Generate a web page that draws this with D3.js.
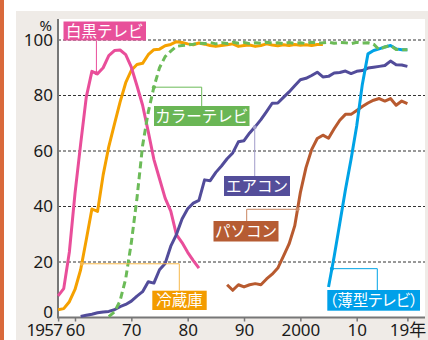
<!DOCTYPE html>
<html>
<head>
<meta charset="utf-8">
<script src="https://cdn.jsdelivr.net/npm/d3@7"></script>
<style>
  body { margin: 0; background: #fff; }
  svg { display: block; }
  text { font-family: "Noto Sans", "Noto Sans CJK JP", sans-serif; }
  .lbl { font-family: "Noto Sans CJK JP", sans-serif; font-size: 15.5px; fill: #fff; }
</style>
</head>
<body>
<div class="chart"></div>
<script>
// 主な耐久消費財の普及率 (%)
var xTicks = [1957, 1960, 1970, 1980, 1990, 2000, 2010, 2019];
var xTickLabels = ["1957", "60", "70", "80", "90", "2000", "10", "19年"];
var yTicks = [0, 20, 40, 60, 80, 100];

// 白黒テレビ 1957-1982
var bwTvStart = 1957;
var bwTv = [7.8, 10.4, 23.6, 44.7, 62.5, 79.4, 88.7, 87.8, 90.0, 94.4, 96.2, 96.4, 94.7,
  90.2, 83.5, 76.5, 67, 57, 50, 43, 38.3, 29.9, 27, 23.5, 20.5, 17.8];

// 冷蔵庫 1957-2004
var fridgeStart = 1957;
var fridge = [2.8, 3.2, 5.7, 10.1, 17.2, 28.0, 39.1, 38.2, 51.4, 61.6, 69.7, 77.6, 84.6,
  89.1, 91.2, 91.6, 94.7, 96.5, 96.7, 97.9, 98.4, 99.4, 99.1, 98.6, 98.3, 98.9, 98.5,
  98.0, 97.7, 98.0, 98.3, 98.6, 97.7, 98.0, 98.2, 97.7, 98.0, 98.6, 98.2, 97.9, 98.3,
  98.0, 98.4, 98.1, 98.3, 98.0, 98.4, 98.4];

// カラーテレビ 1966-2019
var colorTvStart = 1966;
var colorTv = [0.3, 2.0, 6.0, 14.0, 27.0, 43.0, 62.0, 74.0, 83.0, 90.0, 94.0, 96.0, 97.7,
  98.0, 98.2, 98.5, 98.9, 98.7, 99.1, 98.6, 99.0, 98.7, 99.2, 98.8, 99.1, 98.7, 99.0,
  98.8, 99.2, 98.9, 99.0, 98.7, 99.1, 98.8, 99.0, 98.7, 99.2, 98.9, 99.0, 99.2, 98.8,
  99.1, 99.0, 98.7, 99.2, 98.9, 99.0, 98.5, 96.5, 97.5, 98.0, 96.6, 96.5, 96.5];

// エアコン 1961-2019
var acStart = 1961;
var ac = [0.4, 0.8, 1.2, 1.7, 2.0, 2.2, 2.8, 3.9, 4.7, 5.9, 7.7, 9.3, 12.9, 12.4, 17.2,
  19.5, 25.7, 29.9, 35.5, 39.2, 41.2, 42.2, 49.6, 49.3, 52.3, 54.6, 57.2, 59.3, 63.3,
  63.7, 66.5, 68.8, 71.3, 74.2, 77.2, 77.3, 79.3, 81.3, 83.5, 85.7, 86.2, 87.2, 88.4,
  86.7, 86.9, 88.1, 88.3, 88.8, 87.9, 88.7, 89.0, 89.9, 90.2, 90.5, 90.8, 92.4, 91.1,
  91.0, 90.5];

// パソコン 1987-2019
var pcStart = 1987;
var pc = [11.8, 9.8, 11.8, 11.0, 11.8, 12.2, 11.8, 13.9, 15.6, 17.8, 22.1, 26.5, 33.0,
  45.0, 54.0, 60.5, 64.5, 65.7, 64.6, 68.0, 71.1, 73.2, 73.2, 74.6, 76.0, 77.3, 78.3,
  78.9, 78.0, 78.9, 76.5, 78.0, 77.1];

// 薄型テレビ 2005-2019
var flatTvStart = 2005;
var flatTv = [11, 22, 34, 46, 57, 69, 84, 95, 96.2, 96.8, 97.5, 98.0, 96.8, 96.5, 96.5];

var seriesNames = ["冷蔵庫", "白黒テレビ", "エアコン", "パソコン", "（薄型テレビ）", "カラーテレビ"];

var svgWidth = 428;
var svgHeight = 340;

var svg = d3.select(".chart")
  .append("svg")
  .attr("width", svgWidth)
  .attr("height", svgHeight);

// frame
svg.append("rect").attr("x", 0).attr("y", 0).attr("width", 4).attr("height", svgHeight)
  .attr("fill", "#d9693b");
svg.append("rect").attr("x", 16).attr("y", 11).attr("width", svgWidth - 16).attr("height", svgHeight - 11)
  .attr("fill", "#efebe7");

var plotLeft = 58, plotRight = 425, plotTop = 19;

var x = d3.scaleLinear().domain([1957, 2019]).range([58.1, 407.4]);
var y = d3.scaleLinear().domain([0, 100]).range([317.5, 40]);

svg.append("rect")
  .attr("x", plotLeft).attr("y", plotTop)
  .attr("width", plotRight - plotLeft).attr("height", y(0) - plotTop)
  .attr("fill", "#fff");

// gridlines
svg.append("g").selectAll("line")
  .data(yTicks.slice(1))
  .enter()
  .append("line")
  .attr("x1", plotLeft).attr("x2", plotRight)
  .attr("y1", d => y(d)).attr("y2", d => y(d))
  .attr("stroke", "#333")
  .attr("stroke-width", 1)
  .attr("stroke-dasharray", "3,2");

// axes
var bottomAxis = d3.axisBottom(x)
  .tickValues(xTicks)
  .tickSize(4)
  .tickPadding(2)
  .tickFormat((d, i) => xTickLabels[i]);

var xAxis = svg.append("g")
  .attr("transform", `translate(0, ${y(0)})`)
  .call(bottomAxis);
xAxis.select(".domain").remove();
xAxis.selectAll("line").attr("stroke", "#777").attr("stroke-width", 1.5);
xAxis.selectAll("text")
  .attr("font-size", 17)
  .attr("fill", "#1a1a1a");
// the first year label sits left of its tick
xAxis.selectAll("text").filter((d, i) => i === 0)
  .attr("text-anchor", "end")
  .attr("letter-spacing", -0.8)
  .attr("x", 3.5);

var leftAxis = d3.axisLeft(y)
  .tickValues(yTicks)
  .tickSize(0)
  .tickPadding(5);

var yAxis = svg.append("g")
  .attr("transform", `translate(${plotLeft}, 0)`)
  .call(leftAxis);
yAxis.select(".domain").remove();
yAxis.selectAll("text")
  .attr("font-size", 17)
  .attr("fill", "#1a1a1a")
  .attr("y", d => d === 0 ? -5.5 : 0);

svg.append("text")
  .attr("x", 52).attr("y", 30.5)
  .attr("text-anchor", "end")
  .attr("font-size", 15)
  .attr("fill", "#1a1a1a")
  .text("%");

svg.append("line")
  .attr("x1", plotLeft).attr("x2", plotRight)
  .attr("y1", y(0)).attr("y2", y(0))
  .attr("stroke", "#777").attr("stroke-width", 2);
svg.append("line")
  .attr("x1", plotLeft).attr("x2", plotLeft)
  .attr("y1", plotTop).attr("y2", y(0) + 1)
  .attr("stroke", "#777").attr("stroke-width", 2);

// series lines
function toPoints(start, values) {
  return values.map((v, i) => ({ year: start + i, value: v }));
}

function valueAt(start, values, year) {
  var i = Math.floor(year - start);
  var t = year - start - i;
  if (i >= values.length - 1) return values[values.length - 1];
  return values[i] + (values[i + 1] - values[i]) * t;
}

var line = d3.line()
  .x(d => x(d.year))
  .y(d => y(d.value));

var series = [
  { start: fridgeStart, values: fridge, color: "#f5a100", dash: null },
  { start: bwTvStart, values: bwTv, color: "#e94e9a", dash: null },
  { start: acStart, values: ac, color: "#524c9a", dash: null },
  { start: pcStart, values: pc, color: "#b85a2f", dash: null },
  { start: flatTvStart, values: flatTv, color: "#00a3e6", dash: null },
  { start: colorTvStart, values: colorTv, color: "#6cbb58", dash: "7,4" }
];

svg.append("g").selectAll("path")
  .data(series)
  .enter()
  .append("path")
  .attr("d", d => line(toPoints(d.start, d.values)))
  .attr("fill", "none")
  .attr("stroke", d => d.color)
  .attr("stroke-width", 3)
  .attr("stroke-linejoin", "round")
  .attr("stroke-dasharray", d => d.dash);

// labels: marker year on the series, elbow x, box in pixels
var labelBoxes = [
  { s: 0, year: 1961.2, elbow: 179.3, bx: 152.3, by: 290.7, bw: 54.4, bh: 19.3, lead: "#f7b84a" },
  { s: 1, year: 1963.8, elbow: null, bx: 63.5, by: 21.5, bw: 82.5, bh: 19, lead: "#e94e9a" },
  { s: 2, year: 1991.9, elbow: null, bx: 224, by: 176, bw: 66, bh: 20, lead: "#a09cc9" },
  { s: 3, year: 1999.5, elbow: 246.7, bx: 213.5, by: 221, bw: 65, bh: 20.5, lead: "#c98560" },
  { s: 4, year: 2005.6, elbow: 377.3, bx: 327.3, by: 290, bw: 92.7, bh: 20.7, lead: "#00a3e6" },
  { s: 5, year: 1974, elbow: 201.7, bx: 154, by: 106, bw: 95.5, bh: 20, lead: "#6cbb58" }
];

var boxColors = ["#f39c00", "#e8509a", "#544e9a", "#b65c33", "#00a0e9", "#6ab655"];

labelBoxes.forEach(function (b) {
  var s = series[b.s];
  var mx = x(b.year);
  var my = y(valueAt(s.start, s.values, b.year));
  var ex = b.elbow === null ? mx : b.elbow;
  var edge = b.by > my ? b.by : b.by + b.bh;
  svg.append("path")
    .attr("d", `M${mx},${my}H${ex}V${edge}`)
    .attr("fill", "none")
    .attr("stroke", b.lead)
    .attr("stroke-width", 1);
  svg.append("circle")
    .attr("cx", mx).attr("cy", my).attr("r", 2)
    .attr("fill", b.lead);
  svg.append("rect")
    .attr("x", b.bx).attr("y", b.by)
    .attr("width", b.bw).attr("height", b.bh)
    .attr("fill", boxColors[b.s]);
  svg.append("text")
    .attr("class", "lbl")
    .attr("x", b.bx + b.bw / 2)
    .attr("y", b.by + b.bh / 2)
    .attr("dy", "0.36em")
    .attr("text-anchor", "middle")
    .style("font-feature-settings", b.s === 4 ? "'palt'" : null)
    .text(seriesNames[b.s]);
});
</script>
</body>
</html>
